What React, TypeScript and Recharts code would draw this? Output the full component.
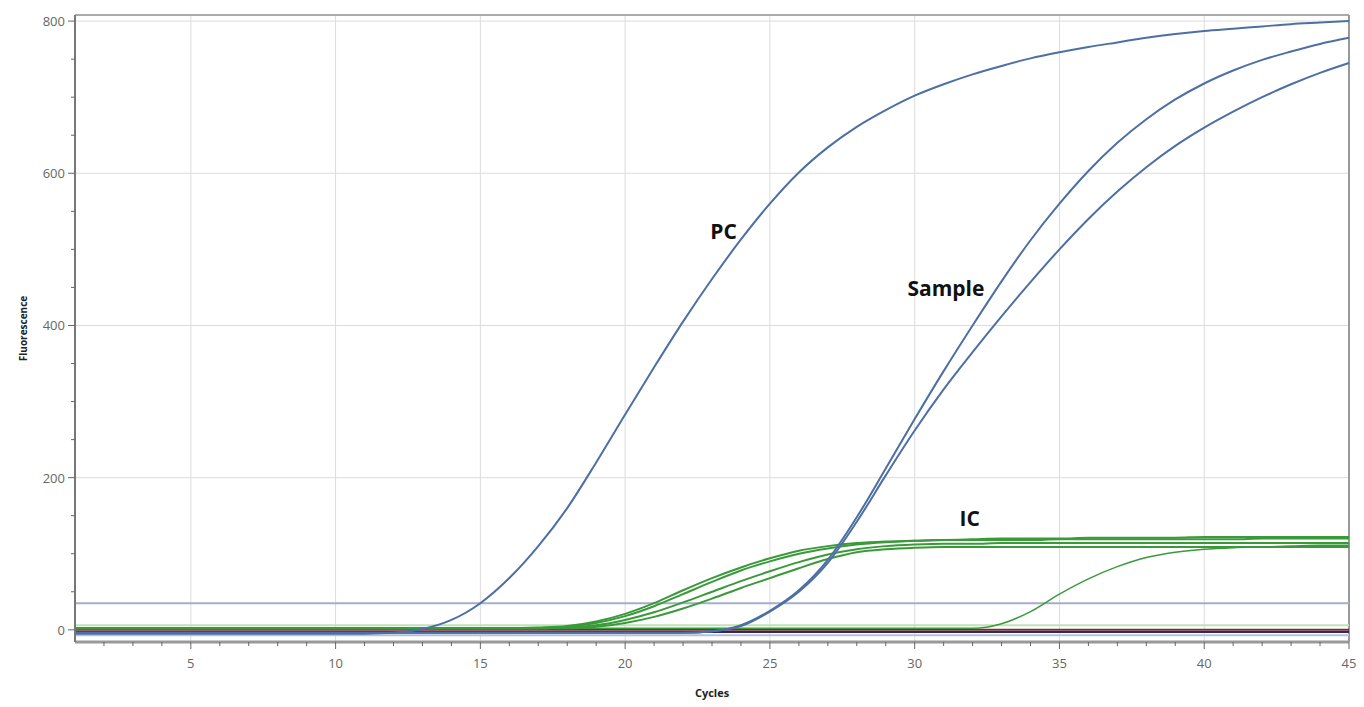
import { LineChart, Line, XAxis, YAxis, ReferenceLine, ReferenceDot } from "recharts";

// cycle numbers on the x axis
const cycles = [
  1, 2, 3, 4, 5, 6, 7, 8, 9, 10, 11, 12, 13, 14, 15, 16, 17, 18, 19, 20, 21, 22, 23,
  24, 25, 26, 27, 28, 29, 30, 31, 32, 33, 34, 35, 36, 37, 38, 39, 40, 41, 42, 43, 44, 45,
];

// positive control
const pc = [
  -5, -5, -5, -5, -5, -5, -5, -5, -5, -5, -5, -4, 1, 13, 35, 68, 110, 160, 220, 283, 345,
  405, 461, 513, 560, 601, 634, 661, 683, 702, 717, 730, 741, 751, 759, 766, 772, 778, 783,
  787, 790, 793, 796, 798, 800,
];

// two sample replicates
const sampleA = [
  -4, -4, -4, -4, -4, -4, -4, -4, -4, -4, -4, -4, -4, -4, -4, -4, -4, -4, -4, -4, -4, -4,
  -2, 6, 25, 52, 92, 148, 212, 277, 340, 400, 458, 512, 560, 603, 640, 671, 697, 718, 735,
  749, 760, 770, 778,
];
const sampleB = [
  -4, -4, -4, -4, -4, -4, -4, -4, -4, -4, -4, -4, -4, -4, -4, -4, -4, -4, -4, -4, -4, -4,
  -2, 5, 24, 50, 88, 142, 203, 262, 316, 365, 412, 457, 500, 540, 576, 608, 636, 660, 681,
  700, 717, 732, 745,
];

// internal control traces
const ic1 = [
  2, 2, 2, 2, 2, 2, 2, 2, 2, 2, 2, 2, 2, 2, 2, 2, 3, 5, 11, 21, 35, 52, 68, 82, 94, 104, 110,
  114, 116, 117, 118, 118, 118, 118, 119, 119, 119, 119, 119, 119, 119, 120, 120, 120, 120,
];
const ic2 = [
  2, 2, 2, 2, 2, 2, 2, 2, 2, 2, 2, 2, 2, 2, 2, 2, 2, 4, 9, 18, 31, 47, 63, 78, 90, 100, 107,
  112, 115, 117, 118, 119, 120, 120, 120, 121, 121, 121, 121, 122, 122, 122, 122, 122, 122,
];
const ic3 = [
  2, 2, 2, 2, 2, 2, 2, 2, 2, 2, 2, 2, 2, 2, 2, 2, 2, 3, 6, 13, 23, 36, 50, 64, 77, 89, 99,
  106, 110, 112, 113, 113, 114, 114, 114, 114, 114, 114, 114, 114, 114, 114, 114, 114, 114,
];
const ic4 = [
  2, 2, 2, 2, 2, 2, 2, 2, 2, 2, 2, 2, 2, 2, 2, 2, 2, 2, 4, 9, 17, 28, 41, 55, 68, 81, 93,
  102, 106, 108, 109, 109, 109, 109, 109, 109, 109, 109, 109, 109, 109, 109, 109, 109, 109,
];
const ic5 = [
  2, 2, 2, 2, 2, 2, 2, 2, 2, 2, 2, 2, 2, 2, 2, 2, 2, 2, 2, 2, 2, 2, 2, 2, 2, 2, 2, 2, 2, 2,
  2, 2, 8, 24, 47, 67, 83, 95, 102, 106, 108, 109, 110, 111, 111,
];

// flat negative traces and threshold
const flatLevels = [6, 0, -3, -7];
const flatColors = ["#bfe3b5", "#7a2a3c", "#2c2c5a", "#b4c0dc"];
const threshold = 35;

const xTicks = cycles.slice(1);
const yTicks = [0, 50, 100, 150, 200, 250, 300, 350, 400, 450, 500, 550, 600, 650, 700, 750, 800];
const xGrid = [5, 10, 15, 20, 25, 30, 35, 40];
const yGrid = [0, 200, 400, 600, 800];

const data = cycles.map((cycle, i) => ({
  cycle,
  pc: pc[i],
  sampleA: sampleA[i],
  sampleB: sampleB[i],
  ic1: ic1[i],
  ic2: ic2[i],
  ic3: ic3[i],
  ic4: ic4[i],
  ic5: ic5[i],
}));

const blue = "#4d6fa3";
const green = "#3a9a3a";
const font = "'Open Sans', 'DejaVu Sans', sans-serif";

function XTick(props: any) {
  const { x, y, payload } = props;
  const major = payload.value % 5 === 0;
  return (
    <g>
      <line x1={x} x2={x} y1={y} y2={y + (major ? 7 : 4)} stroke="#666" strokeWidth={1} />
      {major && (
        <text x={x} y={y + 21} textAnchor="middle" dominantBaseline="central" fontSize={13} fill="#666" fontFamily={font}>
          {payload.value}
        </text>
      )}
    </g>
  );
}

function YTick(props: any) {
  const { x, y, payload } = props;
  const major = payload.value % 200 === 0;
  return (
    <g>
      <line x1={x - (major ? 7 : 4)} x2={x} y1={y} y2={y} stroke="#666" strokeWidth={1} />
      {major && (
        <text x={x - 10} y={y} textAnchor="end" dominantBaseline="central" fontSize={13} fill="#666" fontFamily={font}>
          {payload.value}
        </text>
      )}
    </g>
  );
}

const noteStyle = { fontSize: 21, fontWeight: 700, fill: "#111", fontFamily: font };

export default function App() {
  return (
    <LineChart width={1356} height={699} data={data} margin={{ top: 7, right: 15, bottom: 0, left: 0 }}>
      {xGrid.map((v) => (
        <ReferenceLine key={"gx" + v} x={v} stroke="#dcdcdc" strokeWidth={1} />
      ))}
      {yGrid.map((v) => (
        <ReferenceLine key={"gy" + v} y={v} stroke="#dcdcdc" strokeWidth={1} />
      ))}
      <ReferenceLine y={808} stroke="#aaa" strokeWidth={2} />
      <ReferenceLine x={45} stroke="#999" strokeWidth={2} />
      <XAxis
        dataKey="cycle"
        type="number"
        domain={[1, 45]}
        ticks={xTicks}
        interval={0}
        height={65}
        tickSize={0}
        tickMargin={0}
        tick={<XTick />}
        axisLine={{ stroke: "#999", strokeWidth: 3 }}
        label={{
          content: (p: any) => (
            <text
              x={p.viewBox.x + p.viewBox.width / 2}
              y={p.viewBox.y + 50}
              textAnchor="middle"
              dominantBaseline="central"
              fontSize={11}
              fontWeight={700}
              fill="#222"
              fontFamily={font}
            >
              Cycles
            </text>
          ),
        }}
      />
      <YAxis
        type="number"
        domain={[-16, 808]}
        allowDataOverflow
        ticks={yTicks}
        interval={0}
        width={67}
        tickSize={0}
        tickMargin={0}
        tick={<YTick />}
        axisLine={{ stroke: "#777", strokeWidth: 2 }}
        label={{
          content: (p: any) => {
            const cx = p.viewBox.x + 15;
            const cy = p.viewBox.y + p.viewBox.height / 2;
            return (
              <text
                x={cx}
                y={cy}
                transform={`rotate(-90 ${cx} ${cy})`}
                textAnchor="middle"
                dominantBaseline="central"
                fontSize={10}
                fontWeight={700}
                fill="#222"
                fontFamily={font}
              >
                Fluorescence
              </text>
            );
          },
        }}
      />
      {flatLevels.map((v, i) => (
        <ReferenceLine key={"flat" + i} y={v} stroke={flatColors[i]} strokeWidth={2} />
      ))}
      <ReferenceLine y={threshold} stroke="#a4aecb" strokeWidth={2} />
      <Line dataKey="ic5" type="monotone" stroke={green} strokeWidth={1.5} dot={false} isAnimationActive={false} />
      <Line dataKey="ic4" type="monotone" stroke={green} strokeWidth={2} dot={false} isAnimationActive={false} />
      <Line dataKey="ic3" type="monotone" stroke={green} strokeWidth={2} dot={false} isAnimationActive={false} />
      <Line dataKey="ic2" type="monotone" stroke={green} strokeWidth={2} dot={false} isAnimationActive={false} />
      <Line dataKey="ic1" type="monotone" stroke={green} strokeWidth={2} dot={false} isAnimationActive={false} />
      <Line dataKey="pc" type="monotone" stroke={blue} strokeWidth={2} dot={false} isAnimationActive={false} />
      <Line dataKey="sampleA" type="monotone" stroke={blue} strokeWidth={2} dot={false} isAnimationActive={false} />
      <Line dataKey="sampleB" type="monotone" stroke={blue} strokeWidth={2} dot={false} isAnimationActive={false} />
      <ReferenceDot x={23.4} y={524} r={0} label={{ value: "PC", position: "center", ...noteStyle }} />
      <ReferenceDot x={31.08} y={449} r={0} label={{ value: "Sample", position: "center", ...noteStyle }} />
      <ReferenceDot x={31.9} y={146} r={0} label={{ value: "IC", position: "center", ...noteStyle }} />
    </LineChart>
  );
}
